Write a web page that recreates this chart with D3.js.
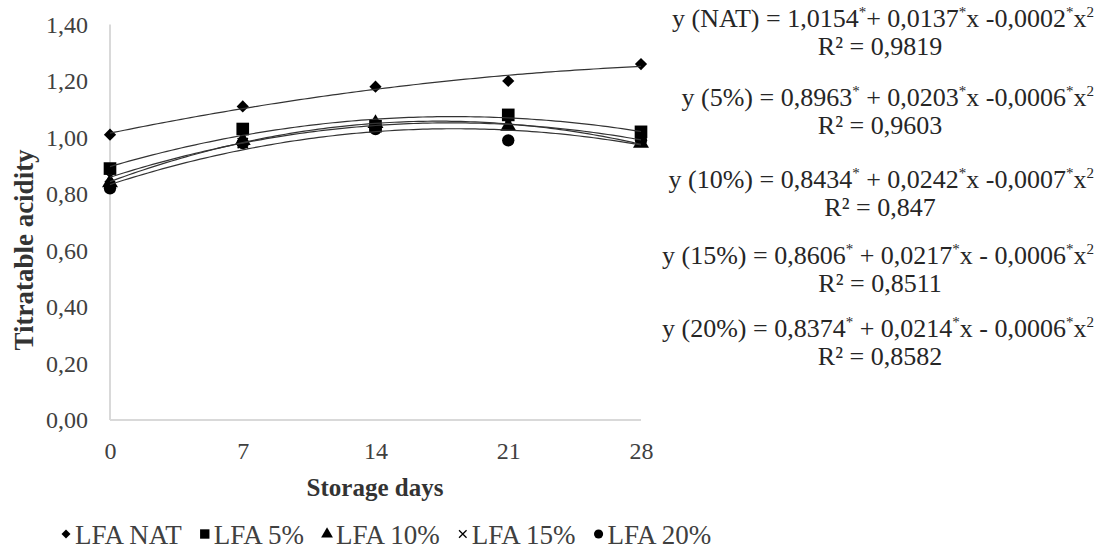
<!DOCTYPE html>
<html><head><meta charset="utf-8">
<script src="https://cdn.jsdelivr.net/npm/d3@7"></script>
<style>
html,body{margin:0;padding:0;background:#fff;}
svg text{font-family:"Liberation Serif","Times New Roman",serif;}
</style></head>
<body><svg id="c" width="1102" height="551"></svg>
<script>
// ---- data ----
const days = [0, 7, 14, 21, 28];
const yTicks = [0, 0.2, 0.4, 0.6, 0.8, 1.0, 1.2, 1.4];
const seriesNames = ["LFA NAT", "LFA 5%", "LFA 10%", "LFA 15%", "LFA 20%"];
const valsNAT = [1.01, 1.11, 1.18, 1.20, 1.26];
const vals5   = [0.89, 1.03, 1.04, 1.08, 1.02];
const vals10  = [0.84, 0.99, 1.05, 1.04, 0.98];
const vals15  = [0.86, 0.98, 1.04, 1.05, 0.99];
const vals20  = [0.82, 0.98, 1.03, 0.99, 0.99];
const eqLabels = [
  ["y (NAT) = 1,0154", "*", "+ 0,0137", "*", "x  -0,0002", "*", "x", "2"],
  ["y (5%) = 0,8963", "*", " + 0,0203", "*", "x -0,0006", "*", "x", "2"],
  ["y (10%) = 0,8434", "*", " + 0,0242", "*", "x -0,0007", "*", "x", "2"],
  ["y (15%) = 0,8606", "*", " + 0,0217", "*", "x - 0,0006", "*", "x", "2"],
  ["y (20%) = 0,8374", "*", " + 0,0214", "*", "x - 0,0006", "*", "x", "2"]
];
const r2Labels = ["R² = 0,9819", "R² = 0,9603", "R² = 0,847", "R² = 0,8511", "R² = 0,8582"];

const allVals = [valsNAT, vals5, vals10, vals15, vals20];
const symbols = [d3.symbolDiamond2, d3.symbolSquare, d3.symbolTriangle, d3.symbolX, d3.symbolCircle];
const symSizes = [95, 160, 110, 70, 120];
const FONT = "Liberation Serif";

const svg = d3.select("#c");
const x = d3.scaleLinear().domain([0, 28]).range([110, 641]);
const y = d3.scaleLinear().domain([0, 1.4]).range([420, 24.5]);

// axes lines
svg.append("line").attr("x1", x(0)).attr("x2", x(0)).attr("y1", y(1.4)).attr("y2", y(0))
  .attr("stroke", "#d9d9d9").attr("stroke-width", 2);
svg.append("line").attr("x1", x(0)).attr("x2", x(28)).attr("y1", y(0)).attr("y2", y(0))
  .attr("stroke", "#d9d9d9").attr("stroke-width", 2);

// y tick labels
const yAxis = d3.axisLeft(y).tickValues(yTicks).tickSize(0).tickPadding(22)
  .tickFormat(d => d3.format(".2f")(d).replace(".", ","));
const gy = svg.append("g").attr("transform", `translate(${x(0)},0)`).call(yAxis)
  .attr("font-family", FONT);
gy.select(".domain").remove();
gy.selectAll("text").attr("font-size", 24).attr("fill", "#404040").attr("font-family", FONT);

// x tick labels
const xAxis = d3.axisBottom(x).tickValues(days).tickSize(0).tickPadding(22).tickFormat(d3.format("d"));
const gx = svg.append("g").attr("transform", `translate(0,${y(0)})`).call(xAxis)
  .attr("font-family", FONT);
gx.select(".domain").remove();
gx.selectAll("text").attr("font-size", 24).attr("fill", "#404040").attr("font-family", FONT);

// axis titles
svg.append("text").attr("x", 375).attr("y", 496).attr("text-anchor", "middle").attr("font-family", FONT)
  .attr("font-size", 25).attr("font-weight", "bold").attr("fill", "#333").text("Storage days");
svg.append("text").attr("transform", "translate(33,250) rotate(-90)").attr("text-anchor", "middle")
  .attr("font-family", FONT)
  .attr("font-size", 27).attr("font-weight", "bold").attr("fill", "#333").text("Titratable acidity");

// quadratic least squares fit (Excel-style polynomial trendline)
function fitQuad(xs, ys) {
  let S = [0,0,0,0,0], T = [0,0,0];
  xs.forEach((xv, i) => {
    for (let k = 0; k < 5; k++) S[k] += Math.pow(xv, k);
    for (let k = 0; k < 3; k++) T[k] += ys[i] * Math.pow(xv, k);
  });
  const A = [[S[0],S[1],S[2],T[0]],[S[1],S[2],S[3],T[1]],[S[2],S[3],S[4],T[2]]];
  for (let i = 0; i < 3; i++) {
    for (let j = i + 1; j < 3; j++) {
      const f = A[j][i] / A[i][i];
      for (let k = i; k < 4; k++) A[j][k] -= f * A[i][k];
    }
  }
  const c = [0,0,0];
  for (let i = 2; i >= 0; i--) {
    let s = A[i][3];
    for (let k = i + 1; k < 3; k++) s -= A[i][k] * c[k];
    c[i] = s / A[i][i];
  }
  return c;
}

const line = d3.line().x(d => x(d[0])).y(d => y(d[1]));
const samples = d3.range(0, 28.001, 0.25);

// markers
allVals.forEach((vals, si) => {
  const g = svg.append("g");
  g.selectAll("path").data(days.map((d, i) => [d, vals[i]])).join("path")
    .attr("transform", d => `translate(${x(d[0])},${y(d[1])})`)
    .attr("d", d3.symbol().type(symbols[si]).size(symSizes[si]))
    .attr("fill", si === 3 ? "none" : "#000")
    .attr("stroke", si === 3 ? "#000" : "none")
    .attr("stroke-width", 1.5);
});

// trendlines
allVals.forEach((vals, si) => {
  const c = fitQuad(days, vals);
  svg.append("path").datum(samples.map(t => [t, c[0] + c[1]*t + c[2]*t*t]))
    .attr("d", line).attr("fill", "none").attr("stroke", "#333").attr("stroke-width", 1.2);
});

// equations
const eqY = [27, 106, 188, 264, 337];
eqLabels.forEach((parts, i) => {
  const t = svg.append("text").attr("x", 1094).attr("y", eqY[i]).attr("text-anchor", "end")
    .attr("font-family", FONT).attr("font-size", 26).attr("fill", "#262626");
  parts.forEach((p, k) => {
    const sup = (k % 2 === 1);
    t.append("tspan").text(p)
      .attr("font-size", sup ? 15 : 26)
      .attr("dy", sup ? -10 : (k > 0 ? 10 : 0));
  });
  svg.append("text").attr("x", 880).attr("y", eqY[i] + 28).attr("text-anchor", "middle")
    .attr("font-family", FONT).attr("font-size", 26).attr("fill", "#262626").text(r2Labels[i]);
});

// legend
const legY = 535;
let lx = 66;
seriesNames.forEach((name, si) => {
  svg.append("path").attr("transform", `translate(${lx},${legY - 1})`)
    .attr("d", d3.symbol().type(symbols[si]).size(symSizes[si] * 0.55))
    .attr("fill", si === 3 ? "none" : "#000")
    .attr("stroke", si === 3 ? "#000" : "none").attr("stroke-width", 1.3);
  const t = svg.append("text").attr("x", lx + 9).attr("y", legY + 9).attr("font-family", FONT)
    .attr("font-size", 27).attr("fill", "#404040").text(name);
  lx += 9 + t.node().getComputedTextLength() + 23;
});
</script></body></html>
